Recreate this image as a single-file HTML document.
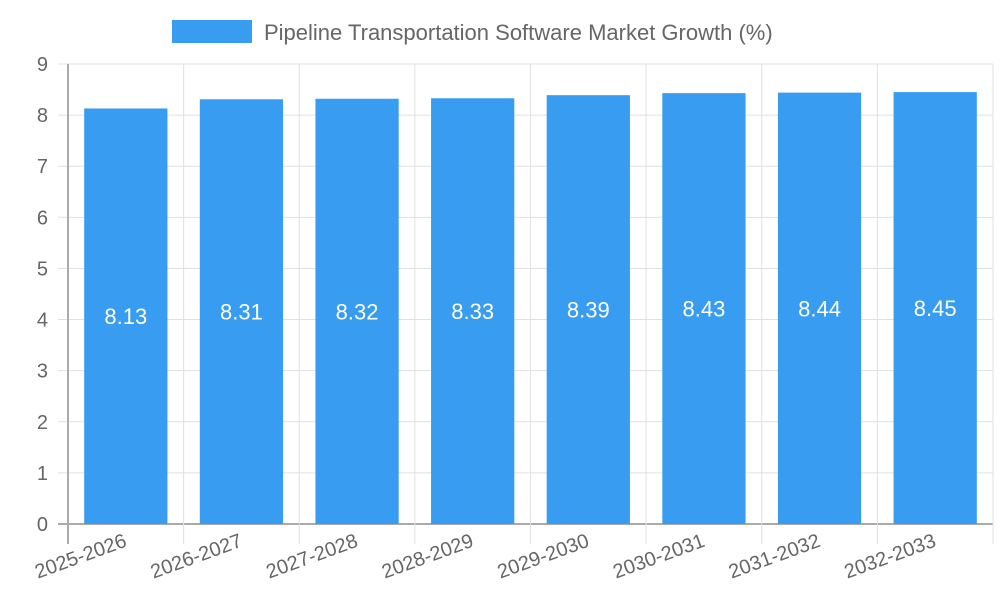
<!DOCTYPE html>
<html><head><meta charset="utf-8"><style>
body{margin:0;background:#fff}
text{font-family:"Liberation Sans",sans-serif}
</style></head><body>
<svg id="chart" width="1000" height="600" xmlns="http://www.w3.org/2000/svg">
<rect x="172" y="20" width="80" height="23" fill="#389cf0"/>
<text x="264" y="40" font-size="22" fill="#666">Pipeline Transportation Software Market Growth (%)</text>
<g id="grid"></g><g id="bars"></g><g id="labels"></g>
</svg>
<script>
const categories=["2025-2026","2026-2027","2027-2028","2028-2029","2029-2030","2030-2031","2031-2032","2032-2033"];
const values=[8.13,8.31,8.32,8.33,8.39,8.43,8.44,8.45];
const yTicks=[0,1,2,3,4,5,6,7,8,9];
const NS="http://www.w3.org/2000/svg";
const L=68,R=993,T=64,B=524,yMax=9;
const bw=(R-L)/categories.length;
const y=v=>B-(B-T)*v/yMax;
const x=i=>L+bw*i;
function mk(tag,attrs,parent){const e=document.createElementNS(NS,tag);for(const k in attrs)e.setAttribute(k,attrs[k]);document.getElementById(parent).appendChild(e);return e;}
yTicks.forEach(t=>{
 const g=mk('line',{x1:L-10,x2:R,y1:y(t),y2:y(t),stroke:t===0?'#aaa':'#e0e0e0','stroke-width':t===0?2:1},'grid');
 
 
 const tl=mk('text',{x:L-20,y:y(t)+7,'text-anchor':'end','font-size':20,fill:'#666'},'labels');
 tl.textContent=t;
 
 
});
for(let i=0;i<=categories.length;i++){
 const g=mk('line',{x1:x(i),x2:x(i),y1:T,y2:B+20,stroke:i===0?'#aaa':'#e0e0e0','stroke-width':i===0?2:1},'grid');
 
 
}
categories.forEach((c,i)=>{
 const cx=x(i)+bw/2, w=bw*0.72;
 const r=mk('rect',{x:cx-w/2,y:y(values[i]),width:w,height:B-y(values[i]),fill:'#389cf0'},'bars');
 
 
 const v=mk('text',{x:cx,y:(y(values[i])+B)/2+8,'text-anchor':'middle','font-size':22,fill:'#fff'},'labels');
 v.textContent=values[i];
 
 
 const xl=mk('text',{x:cx+2,y:546,'text-anchor':'end','font-size':20,fill:'#666',transform:`rotate(-20 ${cx+2} 546)`},'labels');
 xl.textContent=c;
 
 
});
</script>
</body></html>
